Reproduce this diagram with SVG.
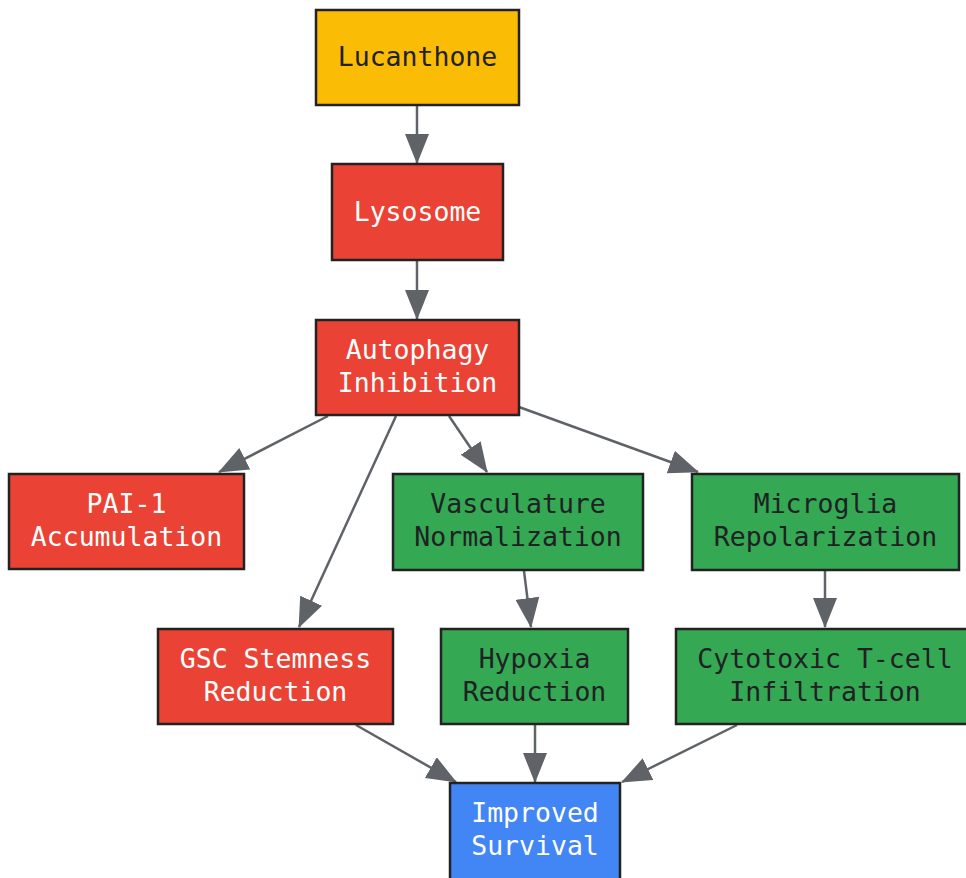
<svg xmlns="http://www.w3.org/2000/svg" width="966" height="878" viewBox="0 0 966 878">
<style>
.n rect{stroke:#222;stroke-width:2.5}
.t{font-family:"DejaVu Sans Mono",monospace;font-size:26.5px;text-anchor:middle}
.w{fill:#fff}.d{fill:#202124}
.red{fill:#EA4335}.grn{fill:#34A853}.yel{fill:#FBBC05}.blu{fill:#4285F4}
#edges line{stroke:#5f6368;stroke-width:2.5;marker-end:url(#ah)}
</style>
<defs>
<marker id="ah" markerUnits="userSpaceOnUse" markerWidth="30" markerHeight="24" refX="29" refY="12" orient="auto" viewBox="0 0 30 24">
<path d="M0,0 L30,12 L0,24 z" fill="#5f6368"/>
</marker>
</defs>
<rect width="966" height="878" fill="#fff"/>
<g id="edges">
<line x1="417" y1="105" x2="417" y2="163"/>
<line x1="417" y1="261" x2="417" y2="319"/>
<line x1="328" y1="416" x2="219" y2="472"/>
<line x1="396" y1="416" x2="299" y2="627"/>
<line x1="449" y1="416" x2="487" y2="472"/>
<line x1="519" y1="407" x2="698" y2="472"/>
<line x1="524" y1="571" x2="531" y2="627"/>
<line x1="825" y1="571" x2="825" y2="627"/>
<line x1="356" y1="725" x2="456" y2="782"/>
<line x1="535" y1="725" x2="535" y2="782"/>
<line x1="737" y1="725" x2="622" y2="782"/>
</g>
<g id="lucanthone" class="n"><rect x="316" y="10" width="203" height="95" class="yel"/><text class="t d" x="417.5" y="66">Lucanthone</text></g>
<g id="lysosome" class="n"><rect x="332" y="164" width="171" height="96" class="red"/><text class="t w" x="417.5" y="221">Lysosome</text></g>
<g id="autophagy" class="n"><rect x="316" y="320" width="203" height="95" class="red"/><text class="t w" x="417.5" y="359">Autophagy</text><text class="t w" x="417.5" y="392">Inhibition</text></g>
<g id="pai1" class="n"><rect x="9" y="474" width="235" height="95" class="red"/><text class="t w" x="126.5" y="513">PAI-1</text><text class="t w" x="126.5" y="546">Accumulation</text></g>
<g id="vasculature" class="n"><rect x="393" y="474" width="250" height="96" class="grn"/><text class="t d" x="518" y="513">Vasculature</text><text class="t d" x="518" y="546">Normalization</text></g>
<g id="microglia" class="n"><rect x="692" y="474" width="267" height="96" class="grn"/><text class="t d" x="825.5" y="513">Microglia</text><text class="t d" x="825.5" y="546">Repolarization</text></g>
<g id="gsc" class="n"><rect x="158" y="629" width="235" height="95" class="red"/><text class="t w" x="275.5" y="668">GSC Stemness</text><text class="t w" x="275.5" y="701">Reduction</text></g>
<g id="hypoxia" class="n"><rect x="441" y="629" width="187" height="95" class="grn"/><text class="t d" x="534.5" y="668">Hypoxia</text><text class="t d" x="534.5" y="701">Reduction</text></g>
<g id="tcell" class="n"><rect x="676" y="629" width="292" height="95" class="grn"/><text class="t d" x="825" y="668">Cytotoxic T-cell</text><text class="t d" x="825" y="701">Infiltration</text></g>
<g id="survival" class="n"><rect x="450" y="783" width="170" height="100" class="blu"/><text class="t w" x="535" y="822">Improved</text><text class="t w" x="535" y="855">Survival</text></g>
</svg>
